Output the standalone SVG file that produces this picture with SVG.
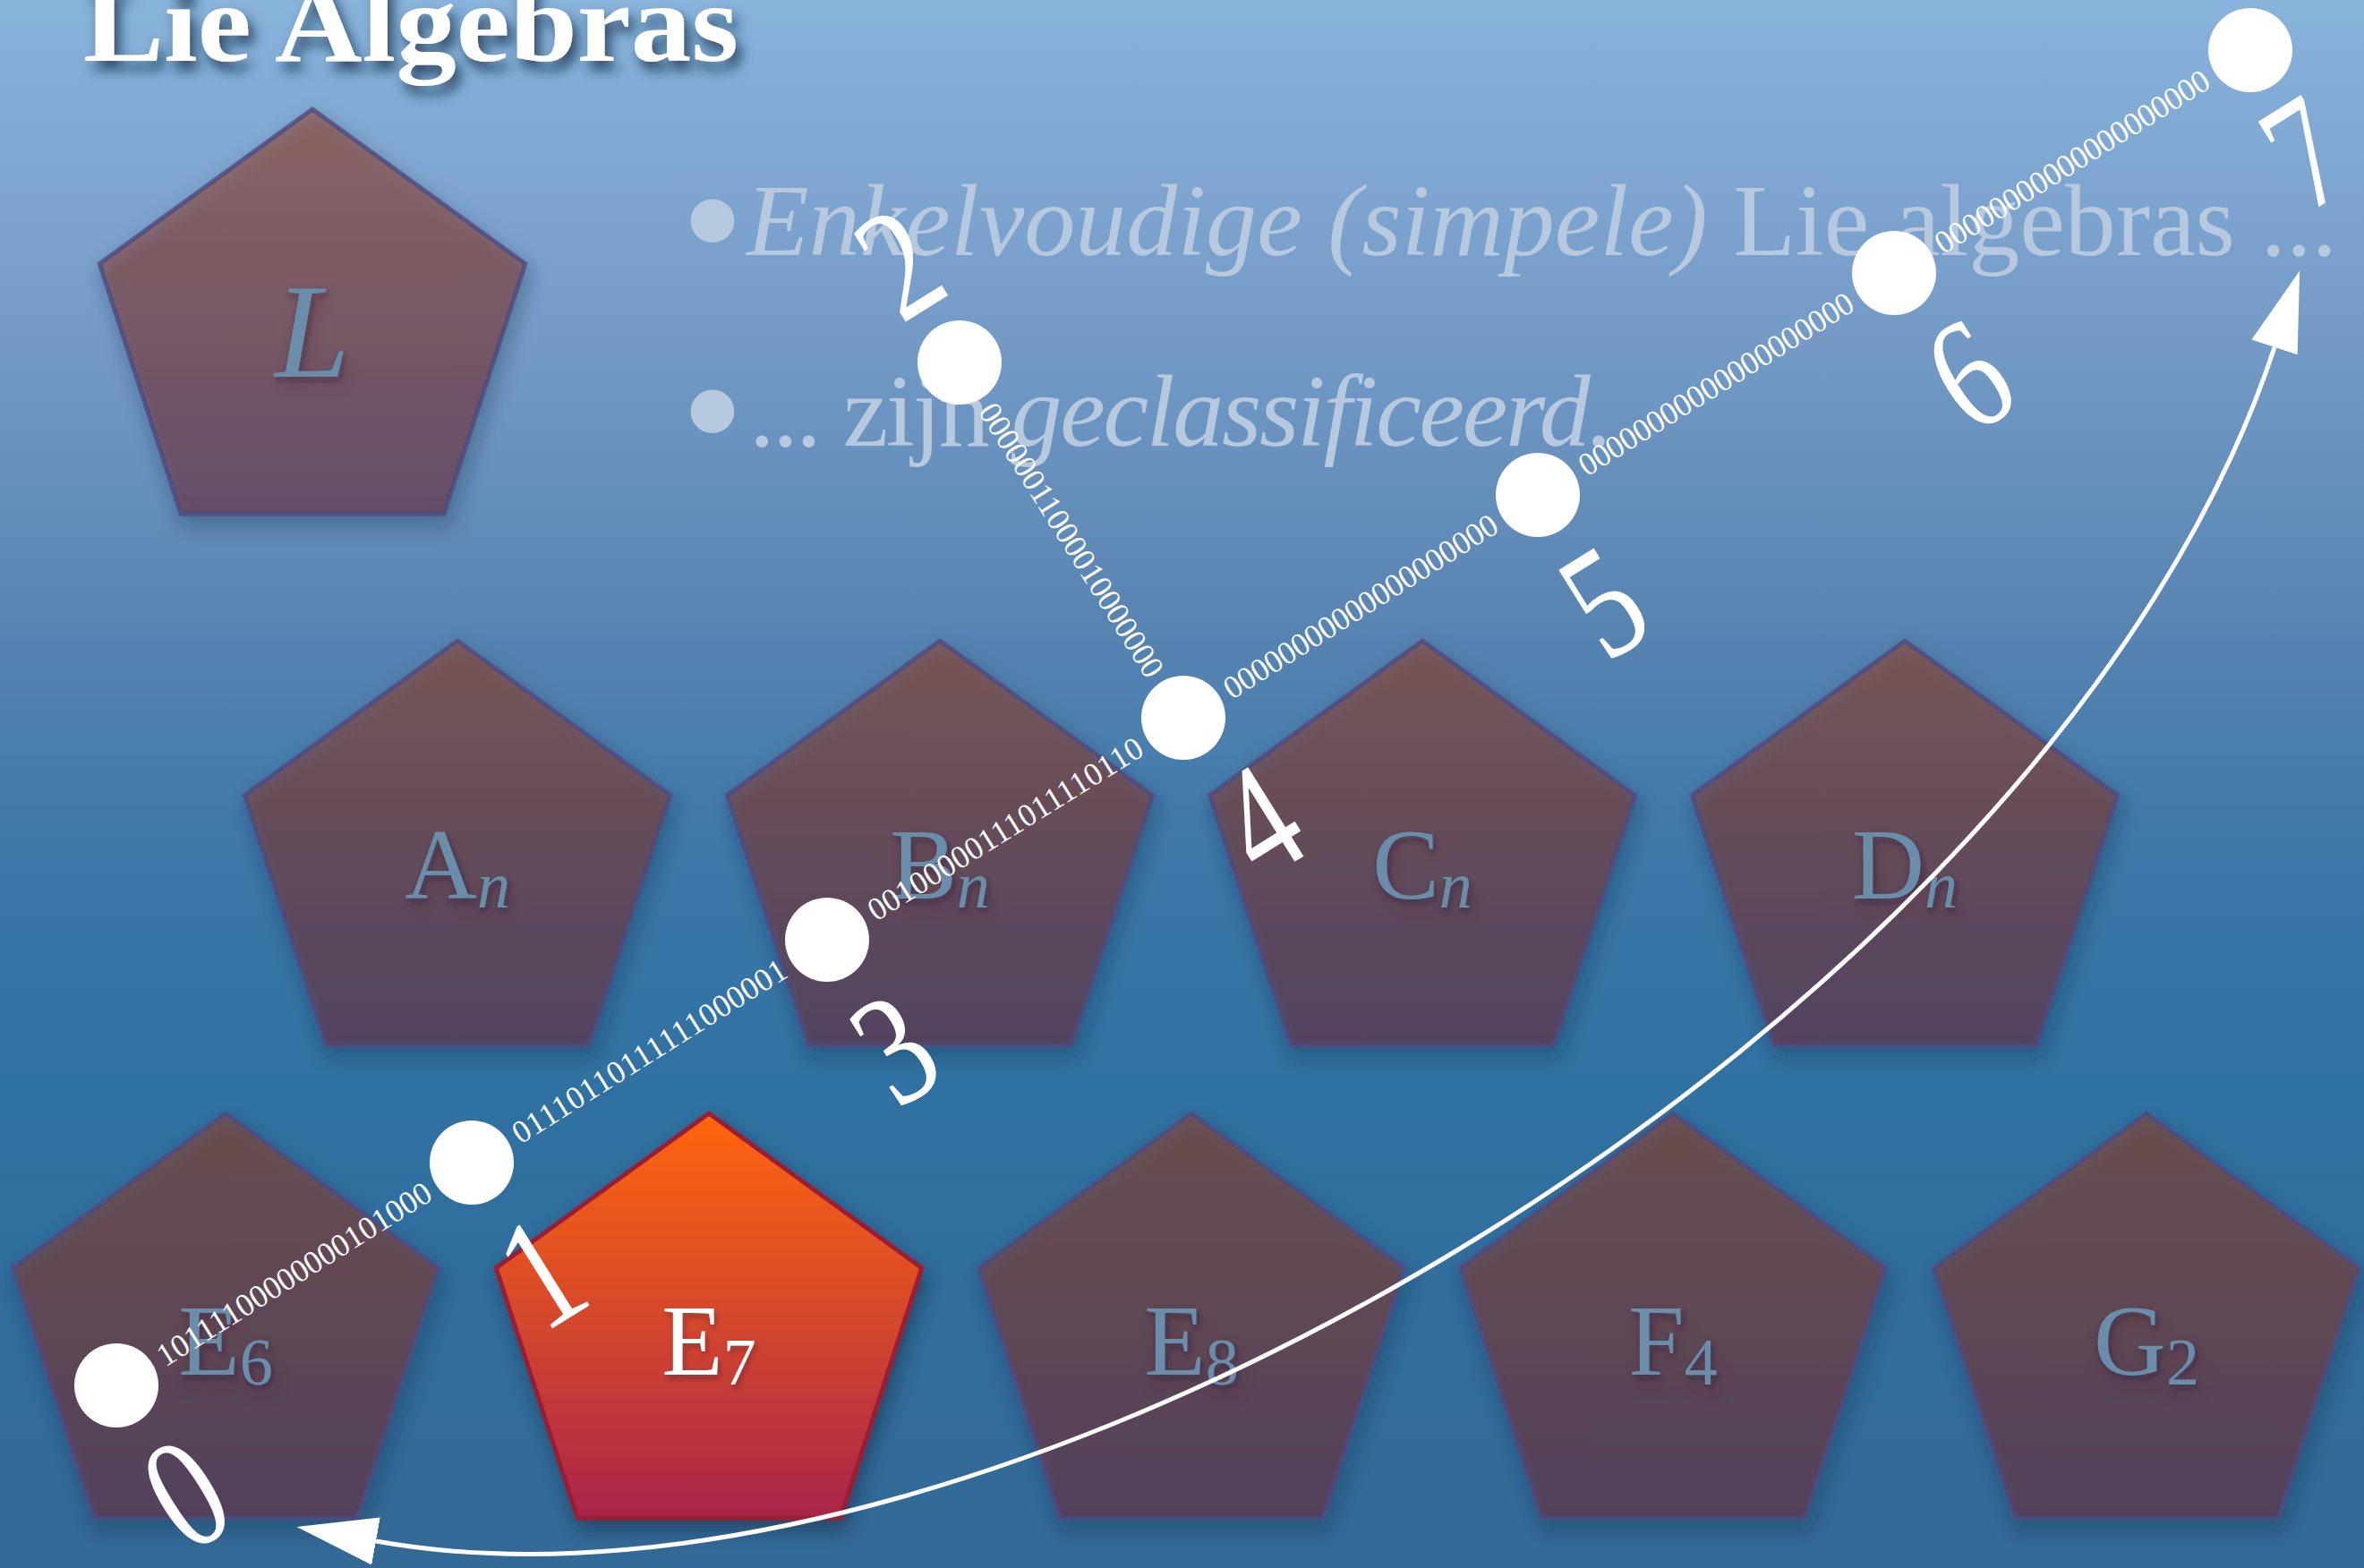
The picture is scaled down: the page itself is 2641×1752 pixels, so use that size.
<svg xmlns="http://www.w3.org/2000/svg" width="2641" height="1752" viewBox="0 0 2641 1752">
<defs>
  <linearGradient id="bg" x1="0" y1="0" x2="0" y2="1">
    <stop offset="0" stop-color="#88b3db"/>
    <stop offset="0.18" stop-color="#789fca"/>
    <stop offset="0.38" stop-color="#5b86b3"/>
    <stop offset="0.55" stop-color="#3b77a8"/>
    <stop offset="0.7" stop-color="#2f71a1"/>
    <stop offset="1" stop-color="#336996"/>
  </linearGradient>
  <linearGradient id="pentFill" x1="0" y1="0" x2="0" y2="1">
    <stop offset="0" stop-color="#9a3c18"/>
    <stop offset="1" stop-color="#702a3a"/>
  </linearGradient>
  <linearGradient id="hotFill" x1="0" y1="0" x2="0" y2="1">
    <stop offset="0" stop-color="#ff650c"/>
    <stop offset="0.5" stop-color="#d5482c"/>
    <stop offset="1" stop-color="#a8244a"/>
  </linearGradient>
  <filter id="shadow" x="-20%" y="-20%" width="140%" height="150%">
    <feDropShadow dx="4" dy="10" stdDeviation="10" flood-color="#0b1a33" flood-opacity="0.5"/>
  </filter>
  <filter id="tshadow" x="-10%" y="-30%" width="120%" height="180%">
    <feDropShadow dx="6" dy="10" stdDeviation="7" flood-color="#15263f" flood-opacity="0.75"/>
  </filter>
  <filter id="lshadow" x="-20%" y="-20%" width="140%" height="150%">
    <feDropShadow dx="2" dy="4" stdDeviation="3" flood-color="#1a2035" flood-opacity="0.35"/>
  </filter>
  <polygon id="pent" points="0,-250 237.8,-77.3 146.9,202.3 -146.9,202.3 -237.8,-77.3"/>
  <marker id="ah" markerUnits="userSpaceOnUse" markerWidth="100" markerHeight="64" viewBox="0 -32 100 64" refX="0" refY="0" orient="auto-start-reverse">
    <path d="M0,-27 L90,0 L0,27 Z" fill="#ffffff"/>
  </marker>
  <style>
    .pent { fill: url(#pentFill); fill-opacity: 0.5; stroke: #4f4a80; stroke-opacity: 0.8; stroke-width: 5; stroke-linejoin: miter; }
    .hot { fill: url(#hotFill); stroke: #9b1f35; stroke-width: 5; }
    .lbl { font-family: "Liberation Serif", serif; font-size: 112px; fill: #6a8eaa; text-anchor: middle; }
    .lbl-big { font-size: 150px; font-style: italic; }
    .lbl-hot { fill: #ffffff; }
    .sub { font-size: 74px; }
    .bin { font-family: "Liberation Serif", serif; font-size: 36px; fill: #ffffff; text-anchor: middle; dominant-baseline: central; }
    .num { font-family: "Liberation Serif", serif; font-size: 178px; fill: #ffffff; text-anchor: middle; }
    .dot { fill: #ffffff; }
    .btxt { font-family: "Liberation Serif", serif; font-size: 114px; fill: #b6c9df; }
    .bdot { font-family: "Liberation Serif", serif; font-size: 204px; fill: #b6c9df; text-anchor: middle; }
    .title { font-family: "Liberation Serif", serif; font-weight: bold; font-size: 124px; fill: #ffffff; }
  </style>
</defs>

<rect x="0" y="0" width="2641" height="1752" fill="url(#bg)"/>

<g id="title">
  <text class="title" x="93" y="68" textLength="732" lengthAdjust="spacingAndGlyphs" filter="url(#tshadow)">Lie Algebras</text>
</g>

<g id="bullets">
  <text class="bdot" x="796" y="314">•</text>
  <text class="btxt" x="834" y="285" textLength="1777"><tspan font-style="italic">Enkelvoudige (simpele)</tspan> Lie algebras ...</text>
  <text class="bdot" x="796" y="527">•</text>
  <text class="btxt" x="837" y="498" textLength="966">... zijn <tspan font-style="italic">geclassificeerd.</tspan></text>
</g>

<g id="node-L" filter="url(#shadow)">
  <use href="#pent" class="pent" transform="translate(349,372)"/>
  <text class="lbl lbl-big" x="349" y="421" filter="url(#lshadow)">L</text>
</g>

<g id="node-An" filter="url(#shadow)">
  <use href="#pent" class="pent" transform="translate(511,966)"/>
  <text class="lbl" x="511" y="1004" filter="url(#lshadow)">A<tspan class="sub" font-style="italic" dy="10">n</tspan></text>
</g>
<g id="node-Bn" filter="url(#shadow)">
  <use href="#pent" class="pent" transform="translate(1050,966)"/>
  <text class="lbl" x="1050" y="1004" filter="url(#lshadow)">B<tspan class="sub" font-style="italic" dy="10">n</tspan></text>
</g>
<g id="node-Cn" filter="url(#shadow)">
  <use href="#pent" class="pent" transform="translate(1589,966)"/>
  <text class="lbl" x="1589" y="1004" filter="url(#lshadow)">C<tspan class="sub" font-style="italic" dy="10">n</tspan></text>
</g>
<g id="node-Dn" filter="url(#shadow)">
  <use href="#pent" class="pent" transform="translate(2128,966)"/>
  <text class="lbl" x="2128" y="1004" filter="url(#lshadow)">D<tspan class="sub" font-style="italic" dy="10">n</tspan></text>
</g>

<g id="node-E6" filter="url(#shadow)">
  <use href="#pent" class="pent" transform="translate(252,1494)"/>
  <text class="lbl" x="252" y="1536" filter="url(#lshadow)">E<tspan class="sub" dy="11">6</tspan></text>
</g>
<g id="node-E7" filter="url(#shadow)">
  <use href="#pent" class="hot" transform="translate(792,1494)"/>
  <text class="lbl lbl-hot" x="792" y="1536" filter="url(#lshadow)">E<tspan class="sub" dy="11">7</tspan></text>
</g>
<g id="node-E8" filter="url(#shadow)">
  <use href="#pent" class="pent" transform="translate(1331,1494)"/>
  <text class="lbl" x="1331" y="1536" filter="url(#lshadow)">E<tspan class="sub" dy="11">8</tspan></text>
</g>
<g id="node-F4" filter="url(#shadow)">
  <use href="#pent" class="pent" transform="translate(1869,1494)"/>
  <text class="lbl" x="1869" y="1536" filter="url(#lshadow)">F<tspan class="sub" dy="11">4</tspan></text>
</g>
<g id="node-G2" filter="url(#shadow)">
  <use href="#pent" class="pent" transform="translate(2398,1494)"/>
  <text class="lbl" x="2398" y="1536" filter="url(#lshadow)">G<tspan class="sub" dy="11">2</tspan></text>
</g>

<g id="connectors">
  <text class="bin" transform="translate(328.5,1423.5) rotate(-32.1)" textLength="355" lengthAdjust="spacing">10111100000000101000</text>
  <text class="bin" transform="translate(725.5,1174.5) rotate(-32.1)" textLength="355" lengthAdjust="spacing">01110110111111000001</text>
  <text class="bin" transform="translate(1123,926) rotate(-31.9)" textLength="355" lengthAdjust="spacing">00100000111011110110</text>
  <text class="bin" transform="translate(1197,603.5) rotate(57.8)" textLength="355" lengthAdjust="spacing">00000011000010000000</text>
  <text class="bin" transform="translate(1520,677.5) rotate(-32.2)" textLength="355" lengthAdjust="spacing">00000000000000000000</text>
  <text class="bin" transform="translate(1917,429) rotate(-31.9)" textLength="355" lengthAdjust="spacing">00000000000000000000</text>
  <text class="bin" transform="translate(2315,180.5) rotate(-32)" textLength="355" lengthAdjust="spacing">00000000000000000000</text>
  <path id="cycle-arrow" d="M420,1722 C1109,1846 2291,1148 2541,388" fill="none" stroke="#ffffff" stroke-width="5" marker-start="url(#ah)" marker-end="url(#ah)"/>
</g>

<g id="dot-0"><circle class="dot" cx="130" cy="1548" r="47"/><text class="num" transform="translate(207,1668) rotate(-32) scale(0.78,1)" dy="0.34em">0</text></g>
<g id="dot-1"><circle class="dot" cx="527" cy="1299" r="47"/><text class="num" transform="translate(604,1421) rotate(-32) scale(0.78,1)" dy="0.34em">1</text></g>
<g id="dot-2"><circle class="dot" cx="1072" cy="405" r="47"/><text class="num" transform="translate(1004,293) rotate(-32) scale(0.78,1)" dy="0.34em">2</text></g>
<g id="dot-3"><circle class="dot" cx="924" cy="1050" r="47"/><text class="num" transform="translate(999,1171) rotate(-32) scale(0.78,1)" dy="0.34em">3</text></g>
<g id="dot-4"><circle class="dot" cx="1322" cy="802" r="47"/><text class="num" transform="translate(1407,916) rotate(-32) scale(0.78,1)" dy="0.34em">4</text></g>
<g id="dot-5"><circle class="dot" cx="1718" cy="553" r="47"/><text class="num" transform="translate(1791,672) rotate(-32) scale(0.78,1)" dy="0.34em">5</text></g>
<g id="dot-6"><circle class="dot" cx="2116" cy="305" r="47"/><text class="num" transform="translate(2199,418) rotate(-32) scale(0.78,1)" dy="0.34em">6</text></g>
<g id="dot-7"><circle class="dot" cx="2514" cy="56" r="47"/><text class="num" transform="translate(2574,170) rotate(-32) scale(0.78,1)" dy="0.34em">7</text></g>
</svg>
